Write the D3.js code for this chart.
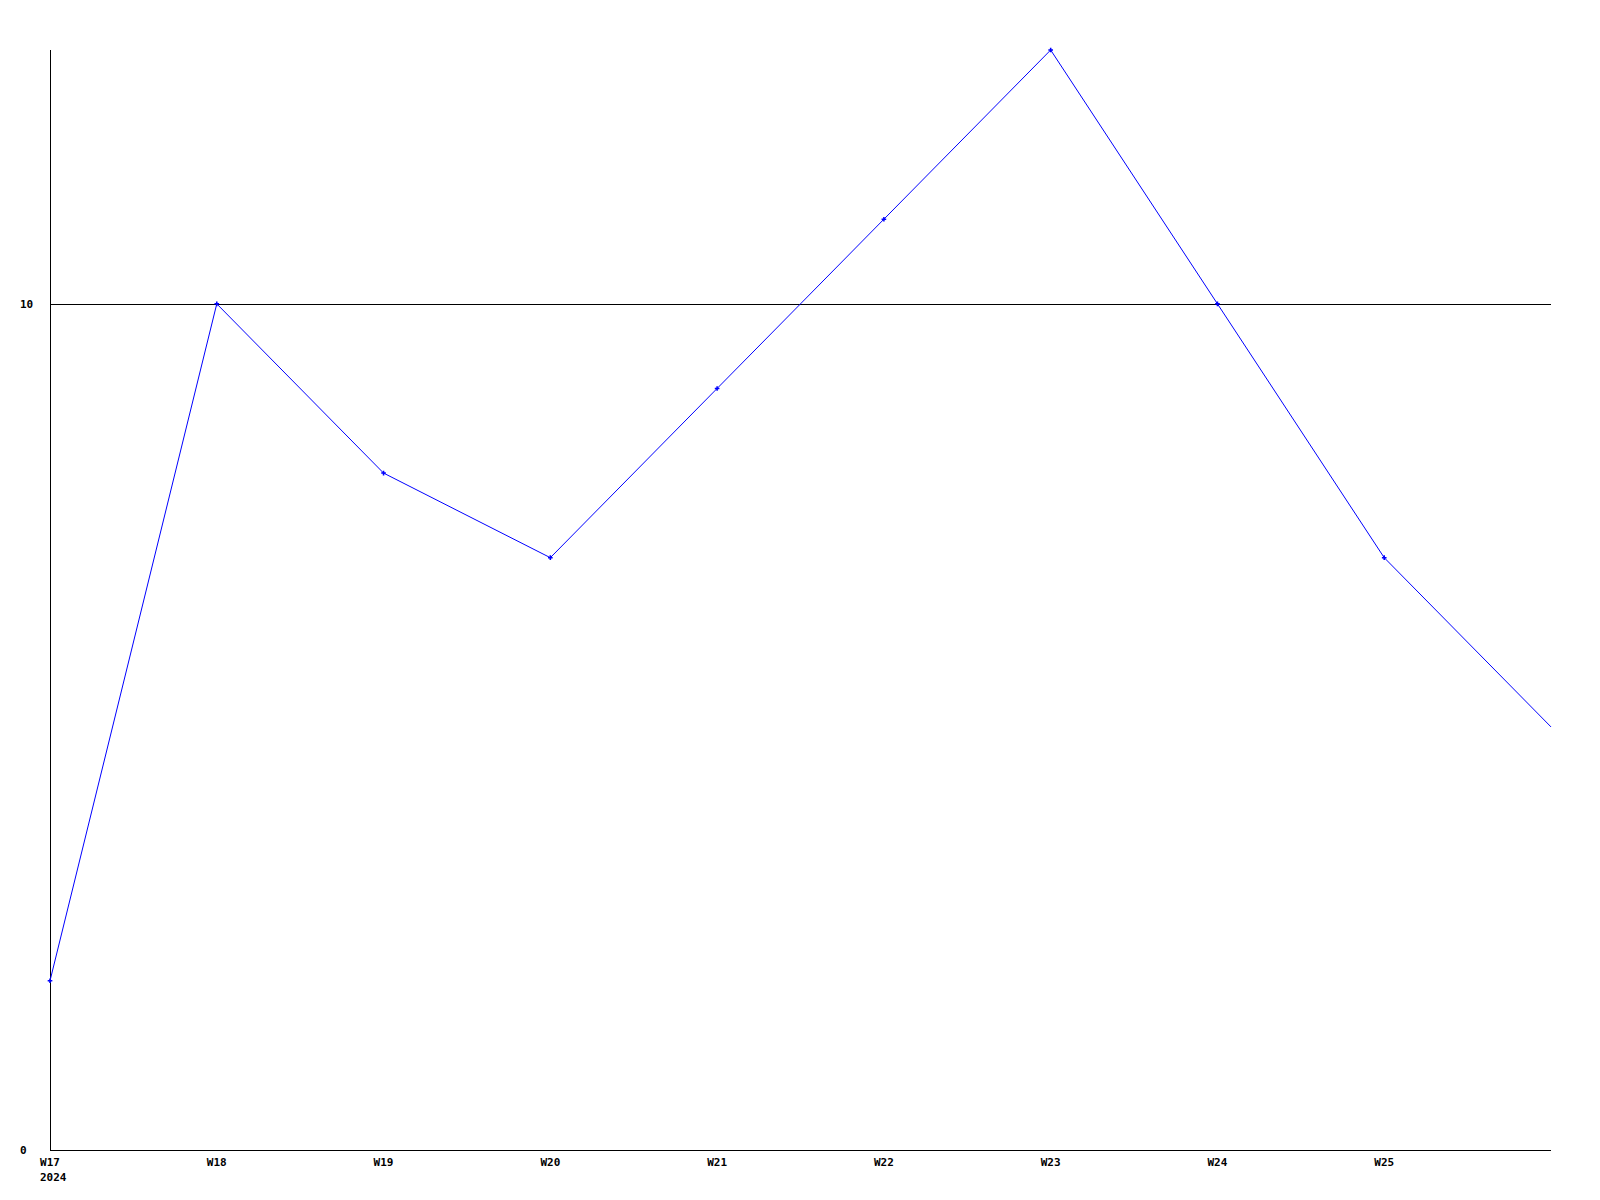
<!DOCTYPE html>
<html><head><meta charset="utf-8">
<script src="https://cdn.jsdelivr.net/npm/d3@7"></script>
<style>body{margin:0;background:#fff}svg{display:block}</style>
</head><body>
<script>
const weeks = ["W17","W18","W19","W20","W21","W22","W23","W24","W25","W26"];
const values = [2,10,8,7,9,11,13,10,7,5];
const xTickLabels = ["W17","W18","W19","W20","W21","W22","W23","W24","W25"];
const yTicks = [0,10];
const yearLabel = "2024";

const W=1600,H=1200;
const svg=d3.select("body").append("svg").attr("width",W).attr("height",H);
const x=d3.scalePoint().domain(weeks).range([50,1551]);
const y=d3.scaleLinear().domain([0,13]).range([1150,50]);
const font='bold 11px "DejaVu Sans Mono", "Liberation Mono", monospace';

svg.append("line").attr("x1",50.5).attr("x2",50.5).attr("y1",y(13)).attr("y2",y(0)).attr("stroke","#000");
svg.append("line").attr("x1",50).attr("x2",1551).attr("y1",y(0)+0.5).attr("y2",y(0)+0.5).attr("stroke","#000");
yTicks.forEach(t=>{
  if(t>0) svg.append("line").attr("x1",50).attr("x2",1551).attr("y1",Math.round(y(t))+0.5).attr("y2",Math.round(y(t))+0.5).attr("stroke","#000");
  svg.append("text").attr("x",20).attr("y",y(t)).attr("dy","0.35em").attr("text-anchor","start")
    .style("font",font).text(t);
});
xTickLabels.forEach(l=>{
  svg.append("text").attr("x",x(l)).attr("y",1166).attr("text-anchor","middle").style("font",font).text(l);
});
svg.append("text").attr("x",x(weeks[0])-10).attr("y",1181).style("font",font).text(yearLabel);

const line=d3.line().x((d,i)=>x(weeks[i])).y(d=>y(d));
svg.append("path").datum(values).attr("d",line).attr("fill","none").attr("stroke","#0000ff").attr("stroke-width",1);
svg.selectAll(".pt").data(values.slice(0,9)).enter().append("path")
  .attr("transform",(d,i)=>`translate(${x(weeks[i])},${y(d)})`)
  .attr("d",d3.symbol().type(d3.symbolCross).size(12)).attr("fill","#0000ff");
</script>
</body></html>
